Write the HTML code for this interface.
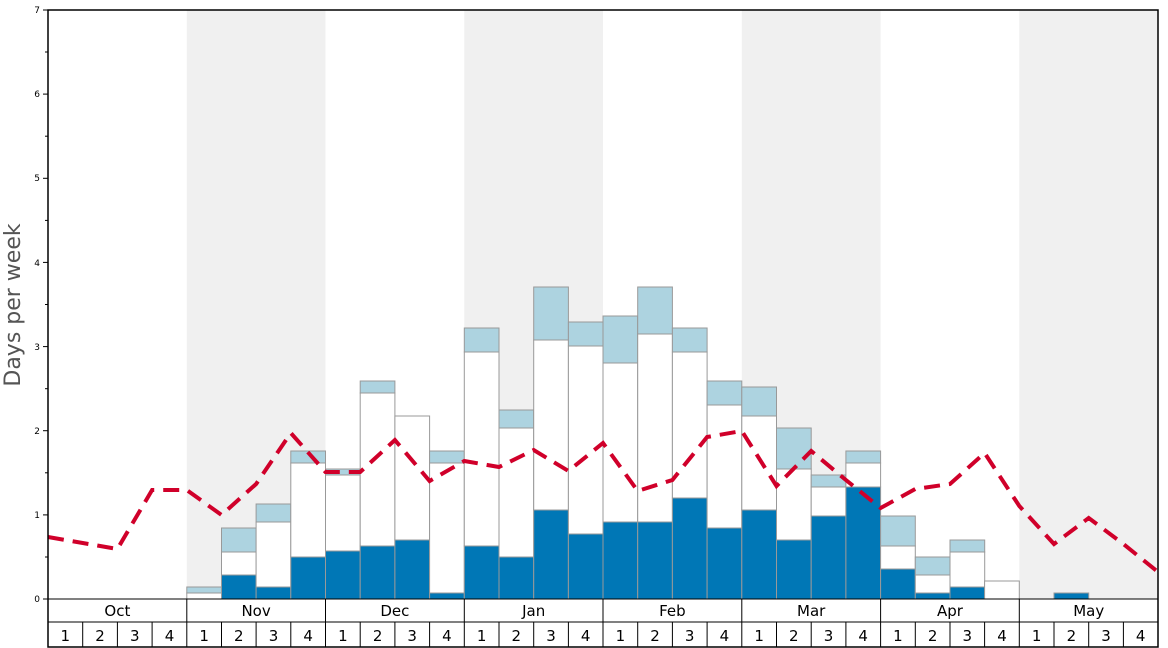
<!DOCTYPE html>
<html><head><meta charset="utf-8"><style>
html,body{margin:0;padding:0;background:#fff;}
svg{display:block;font-family:"DejaVu Sans","Liberation Sans",sans-serif;}
.l{fill:#add3e0;stroke:#999;stroke-width:1}
.w{fill:#fff;stroke:#999;stroke-width:1}
.d{fill:#0077b6;stroke:#999;stroke-width:1}
</style></head><body>
<svg width="1168" height="648" viewBox="0 0 1168 648">
<rect x="0" y="0" width="1168" height="648" fill="#fff"/>
<rect x="186.8" y="10" width="138.7" height="589" fill="#f0f0f0"/>
<rect x="464.3" y="10" width="138.7" height="589" fill="#f0f0f0"/>
<rect x="741.8" y="10" width="138.8" height="589" fill="#f0f0f0"/>
<rect x="1019.3" y="10" width="138.7" height="589" fill="#f0f0f0"/>
<!-- bars -->
<g>
<rect class="l" x="186.8" y="587" width="34.7" height="6"/><rect class="w" x="186.8" y="593" width="34.7" height="6"/>
<rect class="l" x="221.5" y="528" width="34.7" height="24"/><rect class="w" x="221.5" y="552" width="34.7" height="23"/><rect class="d" x="221.5" y="575" width="34.7" height="24"/>
<rect class="l" x="256.1" y="504" width="34.7" height="18"/><rect class="w" x="256.1" y="522" width="34.7" height="65"/><rect class="d" x="256.1" y="587" width="34.7" height="12"/>
<rect class="l" x="290.8" y="451" width="34.7" height="12"/><rect class="w" x="290.8" y="463" width="34.7" height="94"/><rect class="d" x="290.8" y="557" width="34.7" height="42"/>
<rect class="l" x="325.5" y="469" width="34.7" height="6"/><rect class="w" x="325.5" y="475" width="34.7" height="76"/><rect class="d" x="325.5" y="551" width="34.7" height="48"/>
<rect class="l" x="360.2" y="381" width="34.7" height="12"/><rect class="w" x="360.2" y="393" width="34.7" height="153"/><rect class="d" x="360.2" y="546" width="34.7" height="53"/>
<rect class="w" x="394.9" y="416" width="34.7" height="124"/><rect class="d" x="394.9" y="540" width="34.7" height="59"/>
<rect class="l" x="429.6" y="451" width="34.7" height="12"/><rect class="w" x="429.6" y="463" width="34.7" height="130"/><rect class="d" x="429.6" y="593" width="34.7" height="6"/>
<rect class="l" x="464.3" y="328" width="34.7" height="24"/><rect class="w" x="464.3" y="352" width="34.7" height="194"/><rect class="d" x="464.3" y="546" width="34.7" height="53"/>
<rect class="l" x="499" y="410" width="34.7" height="18"/><rect class="w" x="499" y="428" width="34.7" height="129"/><rect class="d" x="499" y="557" width="34.7" height="42"/>
<rect class="l" x="533.7" y="287" width="34.7" height="53"/><rect class="w" x="533.7" y="340" width="34.7" height="170"/><rect class="d" x="533.7" y="510" width="34.7" height="89"/>
<rect class="l" x="568.4" y="322" width="34.7" height="24"/><rect class="w" x="568.4" y="346" width="34.7" height="188"/><rect class="d" x="568.4" y="534" width="34.7" height="65"/>
<rect class="l" x="603" y="316" width="34.7" height="47"/><rect class="w" x="603" y="363" width="34.7" height="159"/><rect class="d" x="603" y="522" width="34.7" height="77"/>
<rect class="l" x="637.7" y="287" width="34.7" height="47"/><rect class="w" x="637.7" y="334" width="34.7" height="188"/><rect class="d" x="637.7" y="522" width="34.7" height="77"/>
<rect class="l" x="672.4" y="328" width="34.7" height="24"/><rect class="w" x="672.4" y="352" width="34.7" height="146"/><rect class="d" x="672.4" y="498" width="34.7" height="101"/>
<rect class="l" x="707.1" y="381" width="34.7" height="24"/><rect class="w" x="707.1" y="405" width="34.7" height="123"/><rect class="d" x="707.1" y="528" width="34.7" height="71"/>
<rect class="l" x="741.8" y="387" width="34.7" height="29"/><rect class="w" x="741.8" y="416" width="34.7" height="94"/><rect class="d" x="741.8" y="510" width="34.7" height="89"/>
<rect class="l" x="776.5" y="428" width="34.7" height="41"/><rect class="w" x="776.5" y="469" width="34.7" height="71"/><rect class="d" x="776.5" y="540" width="34.7" height="59"/>
<rect class="l" x="811.2" y="475" width="34.7" height="12"/><rect class="w" x="811.2" y="487" width="34.7" height="29"/><rect class="d" x="811.2" y="516" width="34.7" height="83"/>
<rect class="l" x="845.9" y="451" width="34.7" height="12"/><rect class="w" x="845.9" y="463" width="34.7" height="24"/><rect class="d" x="845.9" y="487" width="34.7" height="112"/>
<rect class="l" x="880.6" y="516" width="34.7" height="30"/><rect class="w" x="880.6" y="546" width="34.7" height="23"/><rect class="d" x="880.6" y="569" width="34.7" height="30"/>
<rect class="l" x="915.3" y="557" width="34.7" height="18"/><rect class="w" x="915.3" y="575" width="34.7" height="18"/><rect class="d" x="915.3" y="593" width="34.7" height="6"/>
<rect class="l" x="950" y="540" width="34.7" height="12"/><rect class="w" x="950" y="552" width="34.7" height="35"/><rect class="d" x="950" y="587" width="34.7" height="12"/>
<rect class="w" x="984.6" y="581" width="34.7" height="18"/>
<rect class="d" x="1054" y="593" width="34.7" height="6"/>
</g>
<polyline fill="none" stroke="#d0002a" stroke-width="4" stroke-dasharray="16,9" points="48,537 82.7,543 117.4,549 152.1,490 186.8,490 221.5,515 256.1,484 290.8,433 325.5,472 360.2,472 394.9,440 429.6,481 464.3,461 499,467 533.7,450 568.4,471 603,443 637.7,491 672.4,480 707.1,437 741.8,431 776.5,486 811.2,451 845.9,480 880.6,508 915.3,489 950,484 984.6,453 1019.3,506 1054,544 1088.7,518 1123.4,544 1158,572"/>
<!-- axes frame -->
<rect x="48" y="10" width="1110" height="637" fill="none" stroke="#000" stroke-width="1.5"/>
<line x1="48" y1="599" x2="1158" y2="599" stroke="#000" stroke-width="1"/>
<line x1="48" y1="622" x2="1158" y2="622" stroke="#000" stroke-width="1"/>
<g stroke="#000" stroke-width="1">
<line x1="186.8" y1="599" x2="186.8" y2="647"/><line x1="325.5" y1="599" x2="325.5" y2="647"/><line x1="464.3" y1="599" x2="464.3" y2="647"/><line x1="603" y1="599" x2="603" y2="647"/><line x1="741.8" y1="599" x2="741.8" y2="647"/><line x1="880.6" y1="599" x2="880.6" y2="647"/><line x1="1019.3" y1="599" x2="1019.3" y2="647"/>
<line x1="82.7" y1="622" x2="82.7" y2="647"/><line x1="117.4" y1="622" x2="117.4" y2="647"/><line x1="152.1" y1="622" x2="152.1" y2="647"/>
<line x1="221.5" y1="622" x2="221.5" y2="647"/><line x1="256.1" y1="622" x2="256.1" y2="647"/><line x1="290.8" y1="622" x2="290.8" y2="647"/>
<line x1="360.2" y1="622" x2="360.2" y2="647"/><line x1="394.9" y1="622" x2="394.9" y2="647"/><line x1="429.6" y1="622" x2="429.6" y2="647"/>
<line x1="499" y1="622" x2="499" y2="647"/><line x1="533.7" y1="622" x2="533.7" y2="647"/><line x1="568.4" y1="622" x2="568.4" y2="647"/>
<line x1="637.7" y1="622" x2="637.7" y2="647"/><line x1="672.4" y1="622" x2="672.4" y2="647"/><line x1="707.1" y1="622" x2="707.1" y2="647"/>
<line x1="776.5" y1="622" x2="776.5" y2="647"/><line x1="811.2" y1="622" x2="811.2" y2="647"/><line x1="845.9" y1="622" x2="845.9" y2="647"/>
<line x1="915.3" y1="622" x2="915.3" y2="647"/><line x1="950" y1="622" x2="950" y2="647"/><line x1="984.6" y1="622" x2="984.6" y2="647"/>
<line x1="1054" y1="622" x2="1054" y2="647"/><line x1="1088.7" y1="622" x2="1088.7" y2="647"/><line x1="1123.4" y1="622" x2="1123.4" y2="647"/>
<!-- y ticks -->
<line x1="43" y1="599" x2="48" y2="599"/><line x1="43" y1="514.9" x2="48" y2="514.9"/><line x1="43" y1="430.7" x2="48" y2="430.7"/><line x1="43" y1="346.6" x2="48" y2="346.6"/><line x1="43" y1="262.4" x2="48" y2="262.4"/><line x1="43" y1="178.3" x2="48" y2="178.3"/><line x1="43" y1="94.1" x2="48" y2="94.1"/><line x1="43" y1="10" x2="48" y2="10"/>
<line x1="45" y1="557" x2="48" y2="557"/><line x1="45" y1="472.8" x2="48" y2="472.8"/><line x1="45" y1="388.7" x2="48" y2="388.7"/><line x1="45" y1="304.5" x2="48" y2="304.5"/><line x1="45" y1="220.4" x2="48" y2="220.4"/><line x1="45" y1="136.2" x2="48" y2="136.2"/><line x1="45" y1="52" x2="48" y2="52"/>
</g>
<g font-size="9" text-anchor="end" fill="#000">
<text x="40" y="602">0</text><text x="40" y="518">1</text><text x="40" y="434">2</text><text x="40" y="350">3</text><text x="40" y="266">4</text><text x="40" y="181">5</text><text x="40" y="97">6</text><text x="40" y="13">7</text>
</g>
<text x="20" y="305" font-size="22" fill="#555" text-anchor="middle" transform="rotate(-90 20 305)">Days per week</text>
<g font-size="15" text-anchor="middle" fill="#000">
<text x="117.4" y="616">Oct</text><text x="256.1" y="616">Nov</text><text x="394.9" y="616">Dec</text><text x="533.7" y="616">Jan</text><text x="672.4" y="616">Feb</text><text x="811.2" y="616">Mar</text><text x="950" y="616">Apr</text><text x="1088.7" y="616">May</text>
</g>
<g font-size="15" text-anchor="middle" fill="#000">
<text x="65.3" y="641">1</text><text x="100" y="641">2</text><text x="134.8" y="641">3</text><text x="169.5" y="641">4</text>
<text x="204.1" y="641">1</text><text x="238.8" y="641">2</text><text x="273.5" y="641">3</text><text x="308.2" y="641">4</text>
<text x="342.9" y="641">1</text><text x="377.6" y="641">2</text><text x="412.2" y="641">3</text><text x="446.9" y="641">4</text>
<text x="481.6" y="641">1</text><text x="516.3" y="641">2</text><text x="551" y="641">3</text><text x="585.7" y="641">4</text>
<text x="620.4" y="641">1</text><text x="655" y="641">2</text><text x="689.7" y="641">3</text><text x="724.4" y="641">4</text>
<text x="759.1" y="641">1</text><text x="793.8" y="641">2</text><text x="828.5" y="641">3</text><text x="863.2" y="641">4</text>
<text x="897.9" y="641">1</text><text x="932.6" y="641">2</text><text x="967.3" y="641">3</text><text x="1002" y="641">4</text>
<text x="1036.7" y="641">1</text><text x="1071.4" y="641">2</text><text x="1106" y="641">3</text><text x="1140.7" y="641">4</text>
</g>
</svg>
</body></html>
